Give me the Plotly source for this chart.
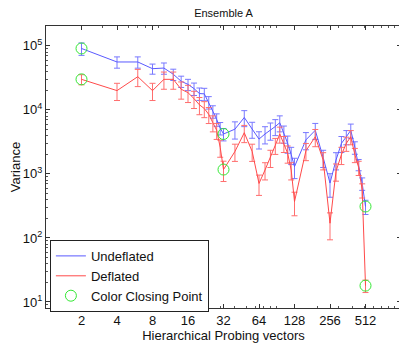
import plotly.graph_objects as go

# number of probing vectors
vectors = [2, 4, 6, 8, 10, 12, 14, 16, 18, 20, 22, 24, 26, 28, 30, 32,
           40, 48, 56, 64, 72, 80, 88, 96, 104, 112, 120, 128,
           160, 192, 224, 256, 288, 320, 352, 384, 416, 448, 480, 512]

undeflated = [91000, 56000, 56000, 44000, 45000, 36000, 28000, 25000, 21500, 18000,
              17800, 13200, 9500, 7100, 5200, 4200,
              5000, 7600, 5000, 3500, 4200, 4800, 5500, 6300, 4300, 3000, 2000, 1300,
              3400, 4800, 1800, 720, 1650, 3000, 3800, 4800, 2600, 1400, 710, 310]
undeflated_err = [0.22, 0.2, 0.2, 0.18, 0.2, 0.2, 0.2, 0.2, 0.22, 0.22,
                  0.22, 0.22, 0.22, 0.22, 0.22, 0.22,
                  0.3, 0.28, 0.28, 0.3, 0.3, 0.3, 0.28, 0.28, 0.3, 0.3, 0.3, 0.35,
                  0.3, 0.28, 0.3, 0.4, 0.3, 0.28, 0.25, 0.25, 0.22, 0.2, 0.22, 0.25]

deflated = [30000, 20000, 33000, 20000, 30000, 30000, 21000, 18600, 15000, 12000,
            10500, 8500, 6300, 4800, 2600, 1170,
            2240, 4400, 2240, 710, 1150, 1800, 2800, 4200, 3000, 2100, 1150, 370,
            2300, 3800, 1650, 170, 1100, 2000, 3000, 3800, 2000, 1260, 560, 18]
deflated_err = [0.18, 0.3, 0.3, 0.3, 0.3, 0.3, 0.3, 0.3, 0.3, 0.3,
                0.28, 0.28, 0.28, 0.28, 0.3, 0.35,
                0.3, 0.3, 0.3, 0.35, 0.3, 0.3, 0.28, 0.28, 0.28, 0.3, 0.3, 0.4,
                0.3, 0.3, 0.3, 0.45, 0.3, 0.3, 0.25, 0.25, 0.25, 0.25, 0.25, 0.22]

closing = [2, 32, 512]
xticks = [2, 4, 8, 16, 32, 64, 128, 256, 512]
yticks = [10, 100, 1000, 10000, 100000]

FONT = "Liberation Sans, Arial, sans-serif"

fig = go.Figure()

fig.add_trace(go.Scatter(
    x=vectors, y=undeflated, mode="lines", name="Undeflated",
    line=dict(color="#5a5aff", width=1),
    error_y=dict(type="data", array=[v * f for v, f in zip(undeflated, undeflated_err)],
                 color="#7878ff", thickness=1, width=3)))

fig.add_trace(go.Scatter(
    x=vectors, y=deflated, mode="lines", name="Deflated",
    line=dict(color="#ff4a4a", width=1),
    error_y=dict(type="data", array=[v * f for v, f in zip(deflated, deflated_err)],
                 color="#ff6e6e", thickness=1, width=3)))

cx, cy = [], []
for series in (undeflated, deflated):
    for c in closing:
        cx.append(c)
        cy.append(series[vectors.index(c)])

fig.add_trace(go.Scatter(
    x=cx, y=cy, mode="markers", name="Color Closing Point",
    marker=dict(symbol="circle-open", size=11, color="#33e833", line=dict(width=1))))

axis_common = dict(
    type="log", showgrid=False, zeroline=False, showline=True, linecolor="#333",
    linewidth=1, mirror="ticks", ticks="inside", ticklen=4, tickcolor="#333",
    automargin=False,
    tickfont=dict(size=13, color="#111", family=FONT))

ymin = [v * m for v in [1, 10, 100, 1000, 10000] for m in range(2, 10)]
fig.update_yaxes(
    **axis_common, range=[0.906, 5.31],
    tickvals=yticks, ticktext=["10<sup>%d</sup>" % i for i in range(1, 6)],
    minor=dict(tickvals=ymin, ticks="inside", ticklen=2, tickcolor="#555"),
    title=dict(text="Variance", font=dict(size=13, color="#111", family=FONT), standoff=4))

xmin = [v * m for v in [1, 10, 100] for m in range(2, 10)]
fig.update_xaxes(
    **axis_common, range=[0, 3.0103],
    tickvals=xticks, ticktext=[str(t) for t in xticks],
    minor=dict(tickvals=xmin, ticks="inside", ticklen=2, tickcolor="#555"),
    title=dict(text="Hierarchical Probing vectors", font=dict(size=13, color="#111", family=FONT), standoff=0))

# page body keeps its 8px margin, so the figure is 8px smaller and margins shifted
fig.update_layout(
    width=399, height=335,
    margin=dict(l=38, r=6, t=18, b=35),
    paper_bgcolor="white", plot_bgcolor="white",
    font=dict(family=FONT, color="#111"),
    title=dict(text="Ensemble A", x=0.5, xanchor="center", xref="paper",
               y=0.984, yanchor="middle",
               font=dict(size=11, color="#111", family=FONT)),
    legend=dict(x=0.011, y=-0.014, xanchor="left", yanchor="bottom",
                bgcolor="white", bordercolor="#222", borderwidth=1,
                font=dict(size=13, color="#111", family=FONT),
                tracegroupgap=0, itemwidth=30),
    showlegend=True,
)

fig.write_html("out.html")
